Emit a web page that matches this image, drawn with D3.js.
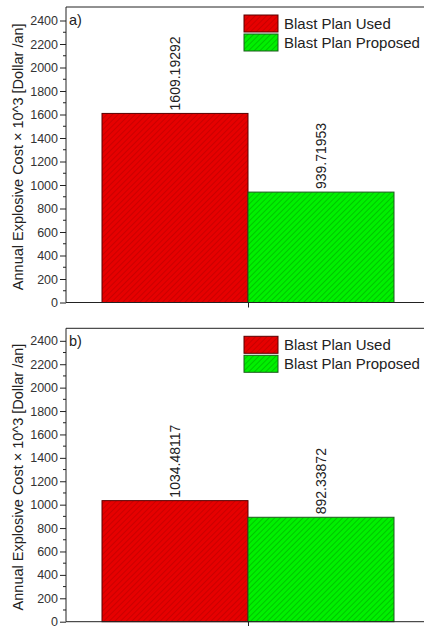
<!DOCTYPE html>
<html>
<head>
<meta charset="utf-8">
<script src="https://cdn.jsdelivr.net/npm/d3@7"></script>
<style>
  html, body { margin: 0; padding: 0; background: #fff; }
  svg { display: block; font-family: "Liberation Sans", Arial, sans-serif; }
</style>
</head>
<body>
<svg id="chart" width="424" height="626"></svg>
<script>
// Annual explosive cost, two scenarios, each comparing used vs proposed blast plans
const seriesNames = ["Blast Plan Used", "Blast Plan Proposed"];
const panelLabels = ["a)", "b)"];
const costA = [1609.19292, 939.71953];
const costB = [1034.48117, 892.33872];
const panelValues = [costA, costB];
const yTicks = [0, 200, 400, 600, 800, 1000, 1200, 1400, 1600, 1800, 2000, 2200, 2400];
const labelText = [["1609.19292", "939.71953"], ["1034.48117", "892.33872"]];

const fills = ["#e60000", "#00f000"];
const hatchColors = ["#b80000", "#00a800"];
const strokes = ["#5a0000", "#1f5a1f"];

const svg = d3.select("#chart");
const defs = svg.append("defs");

// diagonal hatch patterns for bars and legend swatches
fills.forEach((f, i) => {
  const p = defs.append("pattern")
    .attr("id", "hatch" + i)
    .attr("patternUnits", "userSpaceOnUse")
    .attr("width", 4).attr("height", 4)
    .attr("patternTransform", "rotate(45)");
  p.append("rect").attr("width", 4).attr("height", 4).attr("fill", f);
  p.append("line").attr("x1", 0).attr("y1", 0).attr("x2", 0).attr("y2", 4)
    .attr("stroke", hatchColors[i]).attr("stroke-width", 1.2);
});

const panels = [
  { top: 7, bottom: 302.5, yMax: 2515 },
  { top: 328.3, bottom: 621.7, yMax: 2507 }
];
const left = 66, right = 430;

panels.forEach((pn, pi) => {
  const g = svg.append("g");
  const values = panelValues[pi];

  const y = d3.scaleLinear().domain([0, pn.yMax]).range([pn.bottom, pn.top]);
  const x = d3.scaleBand().domain(seriesNames).range([102, 394]).padding(0);

  // frame: top line
  g.append("line").attr("x1", left).attr("x2", right)
    .attr("y1", pn.top).attr("y2", pn.top)
    .attr("stroke", "#222").attr("stroke-width", 1);

  // bars
  g.selectAll("rect.bar").data(values).join("rect")
    .attr("class", "bar")
    .attr("x", (d, i) => x(seriesNames[i]))
    .attr("width", x.bandwidth())
    .attr("y", d => y(d))
    .attr("height", d => y(0) - y(d))
    .attr("fill", (d, i) => `url(#hatch${i})`)
    .attr("stroke", (d, i) => strokes[i])
    .attr("stroke-width", 1);

  // value labels, rotated
  g.selectAll("text.val").data(values).join("text")
    .attr("class", "val")
    .attr("transform", (d, i) => `translate(${x(seriesNames[i]) + x.bandwidth() / 2 + 5},${y(d) - 3}) rotate(-90)`)
    .attr("font-size", 14)
    .attr("fill", "#222")
    .text((d, i) => labelText[pi][i]);

  // minor ticks
  const minor = d3.range(100, 2500, 200);
  g.selectAll("line.minor").data(minor).join("line")
    .attr("class", "minor")
    .attr("x1", left - 3).attr("x2", left)
    .attr("y1", d => y(d)).attr("y2", d => y(d))
    .attr("stroke", "#222");

  // left axis
  const ya = g.append("g").attr("transform", `translate(${left},0)`)
    .call(d3.axisLeft(y).tickValues(yTicks).tickSize(6).tickPadding(2).tickFormat(d3.format("d")));
  ya.select(".domain").attr("d", `M0,${pn.top}V${pn.bottom}`).attr("stroke", "#222");
  ya.selectAll(".tick line").attr("stroke", "#222");
  ya.selectAll(".tick text").attr("font-size", 12.5).attr("fill", "#333")
    .attr("font-family", "Liberation Sans, Arial, sans-serif");

  // bottom axis with single center tick
  const xa = g.append("g").attr("transform", `translate(0,${pn.bottom})`)
    .call(d3.axisBottom(d3.scaleLinear().domain([left, right]).range([left, right]))
      .tickValues([x(seriesNames[1])]).tickSize(5).tickFormat(""));
  xa.select(".domain").attr("d", `M${left},0H${right}`).attr("stroke", "#222");
  xa.selectAll(".tick line").attr("stroke", "#222");

  // y-axis title
  g.append("text")
    .attr("transform", `translate(23,${(pn.top + pn.bottom) / 2 + 2}) rotate(-90)`)
    .attr("text-anchor", "middle")
    .attr("font-size", 14.5)
    .attr("fill", "#222")
    .text("Annual Explosive Cost × 10^3 [Dollar /an]");

  // panel label
  g.append("text")
    .attr("x", 69).attr("y", pn.top + 18)
    .attr("font-size", 14.5)
    .attr("fill", "#222")
    .text(panelLabels[pi]);

  // legend
  const lg = g.append("g").attr("transform", `translate(244,${pn.top + 8})`);
  seriesNames.forEach((name, i) => {
    lg.append("rect")
      .attr("x", 0).attr("y", i * 19)
      .attr("width", 34).attr("height", 17)
      .attr("fill", `url(#hatch${i})`)
      .attr("stroke", strokes[i]).attr("stroke-width", 1);
    lg.append("text")
      .attr("x", 40).attr("y", i * 19 + 14)
      .attr("font-size", 15)
      .attr("fill", "#222")
      .text(name);
  });
});
</script>
</body>
</html>
